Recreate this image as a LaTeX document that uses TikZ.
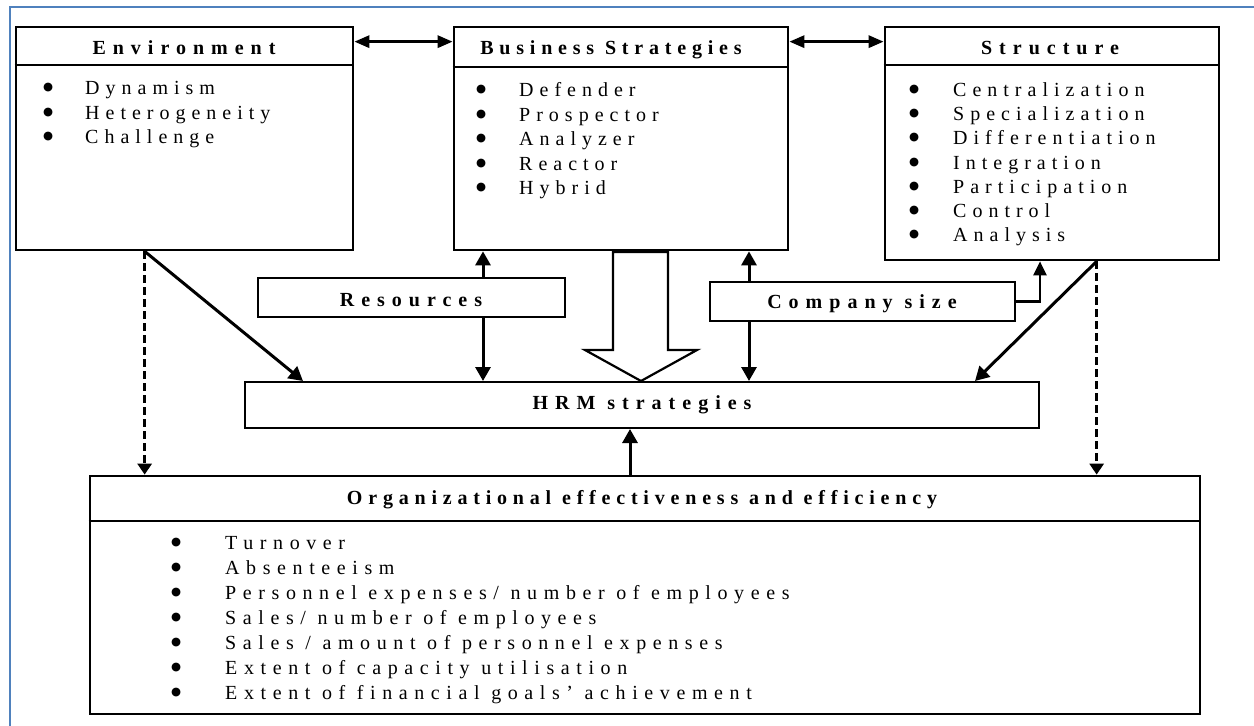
\documentclass[tikz,border=0pt]{standalone}
\usepackage{fontspec}
\setmainfont{Liberation Serif}
\newfontfamily\itemfont[LetterSpace=30]{Liberation Serif}
\newfontfamily\wideitemfont[LetterSpace=33]{Liberation Serif}
\newfontfamily\headfont[LetterSpace=35]{Liberation Serif}
\newfontfamily\tightheadfont[LetterSpace=29]{Liberation Serif}
\newfontfamily\dotfont{DejaVu Sans}
\usetikzlibrary{arrows.meta,calc}
\definecolor{framec}{RGB}{79,129,189}
% bullet item: round bullet in a fixed-width column, then the text
\newcommand\itm[2]{\makebox[#1pt][l]{\raisebox{4pt}{\dotfont\fontsize{11.5}{11.5}\selectfont ●}}#2}

\begin{document}
\begin{tikzpicture}[x=1pt,y=-1pt,
  bigbox/.style={draw, line width=2.7pt, inner sep=0pt, fill=white},
  midbox/.style={draw, line width=2pt, inner sep=0pt, fill=white},
  sepline/.style={line width=2.3pt},
  head/.style={font=\fontsize{20}{24.5}\selectfont\headfont\bfseries, anchor=base, inner sep=0pt},
  tighthead/.style={head, font=\fontsize{20}{24.5}\selectfont\tightheadfont\bfseries},
  itemlist/.style={font=\fontsize{20}{24.5}\selectfont\itemfont, align=left, anchor=base west, inner sep=0pt},
  arr/.style={line width=3pt, -{Triangle[length=14pt,width=15pt]}},
  dblarr/.style={line width=3pt, {Triangle[length=15pt,width=12pt]}-{Triangle[length=15pt,width=12pt]}},
  elbowarr/.style={line width=2.4pt, -{Triangle[length=14pt,width=13pt]}},
  dasharr/.style={line width=3pt, dash pattern=on 8pt off 4pt, -{Triangle[length=11pt,width=14pt]}},
  hollow/.style={line width=2.2pt, fill=white, line join=miter}
]
\useasboundingbox (0,0) rectangle (1254,726);

% page frame
\draw[framec, line width=2pt] (10,726) -- (10,7) -- (1254,7);

% boxes
\node[bigbox, minimum width=337pt, minimum height=223pt] (env) at (184.5,138.5) {};
\node[bigbox, minimum width=334pt, minimum height=223pt] (bs) at (621,138.5) {};
\node[bigbox, minimum width=334pt, minimum height=233pt] (str) at (1052,143.5) {};
\node[bigbox, minimum width=1110pt, minimum height=238pt] (org) at (645,595) {};
\node[midbox, minimum width=307pt, minimum height=39pt] (res) at (411.5,297.5) {};
\node[midbox, minimum width=305pt, minimum height=39pt] (cs) at (862.5,301.5) {};
\node[midbox, minimum width=794pt, minimum height=46pt] (hrm) at (642,405) {};

% title separators
\draw[sepline] ($(env.north west)+(0,39)$) -- ($(env.north east)+(0,39)$);
\draw[sepline] ($(bs.north west)+(0,41)$) -- ($(bs.north east)+(0,41)$);
\draw[sepline] ($(str.north west)+(0,39)$) -- ($(str.north east)+(0,39)$);
\draw[sepline] ($(org.north west)+(0,46)$) -- ($(org.north east)+(0,46)$);

% titles
\node[head] (envt) at (184,54.5) {Environment};
\node[tighthead] (bst) at (611,54.5) {Business Strategies};
\node[head] (strt) at (1050,54.5) {Structure};
\node[tighthead] (orgt) at (642,504.5) {Organizational effectiveness and efficiency};
\node[head] (rest) at (411,306.5) {Resources};
\node[head] (cst) at (862,308) {Company size};
\node[head] (hrmt) at (642,409.5) {HRM strategies};

% item lists (anchored at the baseline of their last line)
\node[itemlist] (envl) at (43,143.5) {\itm{42}{Dynamism}\\\itm{42}{Heterogeneity}\\\itm{42}{Challenge}};
\node[itemlist] (bsl) at (476,194.5) {\itm{43}{Defender}\\\itm{43}{Prospector}\\\itm{43}{Analyzer}\\\itm{43}{Reactor}\\\itm{43}{Hybrid}};
\node[itemlist, font=\fontsize{20}{24.2}\selectfont\itemfont] (strl) at (909,241.7) {\itm{44}{Centralization}\\\itm{44}{Specialization}\\\itm{44}{Differentiation}\\\itm{44}{Integration}\\\itm{44}{Participation}\\\itm{44}{Control}\\\itm{44}{Analysis}};
\node[itemlist, font=\fontsize{20}{25}\selectfont\wideitemfont] (orgl) at (171,699.5) {\itm{54}{Turnover}\\\itm{54}{Absenteeism}\\\itm{54}{Personnel expenses/ number of employees}\\\itm{54}{Sales/ number of employees}\\\itm{54}{Sales / amount of personnel expenses}\\\itm{54}{Extent of capacity utilisation}\\\itm{54}{Extent of financial goals’ achievement}};

% connector columns
\coordinate (xr) at (483,0);
\coordinate (xc) at (749,0);
\coordinate (xe) at (1040,0);
\coordinate (xu) at (630,0);
\coordinate (envfoot) at ($(env.south west)+(130,0)$);
\coordinate (strfoot) at ($(str.south west)+(213,0)$);
\coordinate (envhit) at (303,0);
\coordinate (strhit) at (975,0);

% top two-way links
\draw[dblarr] ($(env.north east)+(0,16)$) -- ($(bs.north west)+(0,16)$);
\draw[dblarr] ($(bs.north east)+(0,16)$) -- ($(str.north west)+(0,16)$);

% resources and company size
\draw[arr] (res.north -| xr) -- (bs.south -| xr);
\draw[arr] (res.south -| xr) -- (hrm.north -| xr);
\draw[arr] (cs.north -| xc) -- (bs.south -| xc);
\draw[arr] (cs.south -| xc) -- (hrm.north -| xc);
\draw[elbowarr] (cs.east) -| (str.south -| xe);

% diagonal influences
\draw[arr] (envfoot) -- (hrm.north -| envhit);
\draw[arr] (strfoot) -- (hrm.north -| strhit);

% dashed direct effects
\draw[dasharr] (envfoot) -- (envfoot |- org.north);
\draw[dasharr] (strfoot) -- (strfoot |- org.north);

% feedback from outcomes
\draw[arr] (org.north -| xu) -- (hrm.south -| xu);

% hollow block arrow from strategies to HRM
\coordinate (tip) at ($(hrm.north)+(-1,0)$);
\draw[hollow] ($(tip)+(-28,-129)$) -- ($(tip)+(27,-129)$) -- ($(tip)+(27,-31)$) -- ($(tip)+(56,-31)$) -- (tip) -- ($(tip)+(-56,-31)$) -- ($(tip)+(-28,-31)$) -- cycle;
\end{tikzpicture}
\end{document}
